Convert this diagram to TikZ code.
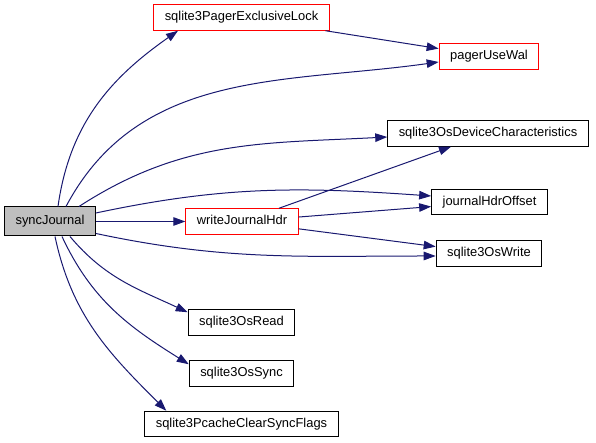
\documentclass[tikz,border=0pt]{standalone}
\usepackage{fontspec}
\setmainfont{Liberation Sans}
\usetikzlibrary{positioning,arrows.meta}
\definecolor{CGNavy}{HTML}{191970}
\definecolor{CGRed}{HTML}{FF0000}
\definecolor{CGGray}{HTML}{BFBFBF}
\tikzset{
  cgBase/.style={
    font=\fontsize{12.9pt}{14pt}\selectfont,
    draw=black,
    line width=1pt,
    inner xsep=11pt,
    inner ysep=0pt,
    text height=9.5pt,
    text depth=2.8pt,
    minimum height=25.5pt
  },
  cgRoot/.style={
    cgBase,
    fill=CGGray,
    minimum height=29pt
  },
  cgLocal/.style={
    cgBase,
    draw=CGRed
  },
  cgExt/.style={
    cgBase
  },
  cgArrow/.style={
    line width=1pt,
    color=CGNavy,
    -{Triangle[length=12pt,width=8.5pt]}
  }
}

\begin{document}
\begin{tikzpicture}[x=1pt,y=1pt]
    \useasboundingbox (0,0) rectangle (596,443);

    % Funcion raiz
    \node (sync) [cgRoot] at (50,221.5) {syncJournal};

    % Columna central
    \node (wjh) [cgLocal] at (242,221.5) {writeJournalHdr};
    \node (lock) [cgLocal] at (241.5,425.5) {sqlite3PagerExclusiveLock};
    \node (read) [cgExt] at (241.5,120.5) {sqlite3OsRead};
    \node (osync) [cgExt] at (241.5,69.5) {sqlite3OsSync};
    \node (pcache) [cgExt] at (241.5,19) {sqlite3PcacheClearSyncFlags};

    % Columna derecha
    \node (wal) [cgLocal] at (489,386.5) {pagerUseWal};
    \node (dev) [cgExt] at (488,309.5) {sqlite3OsDeviceCharacteristics};
    \node (off) [cgExt] at (489.5,241) {journalHdrOffset};
    \node (write) [cgExt] at (489,189.5) {sqlite3OsWrite};

    % Llamadas desde syncJournal
    \draw [cgArrow] ([xshift=8pt]sync.north) to[out=82,in=215] ([xshift=-63.5pt]lock.south);
    \draw [cgArrow] ([xshift=16pt]sync.north) to[out=62,in=188] ([yshift=-5.5pt]wal.west);
    \draw [cgArrow] ([xshift=29pt]sync.north) to[out=33,in=183] ([yshift=-3.5pt]dev.west);
    \draw [cgArrow] ([yshift=8.5pt]sync.east) to[out=12,in=176] ([yshift=6pt]off.west);
    \draw [cgArrow] (sync) -- (wjh);
    \draw [cgArrow] ([yshift=-12pt]sync.east) to[out=-12,in=180] ([yshift=-2.5pt]write.west);
    \draw [cgArrow] ([xshift=20pt]sync.south) to[out=-50,in=155] ([yshift=-3pt]read.north west);
    \draw [cgArrow] ([xshift=12pt]sync.south) to[out=-65,in=148] ([yshift=-4pt]osync.north west);
    \draw [cgArrow] ([xshift=5pt]sync.south) to[out=-78,in=135] ([xshift=22pt]pcache.north west);

    % Llamadas internas
    \draw [cgArrow] (lock) -- (wal);
    \draw [cgArrow] (wjh) -- (dev);
    \draw [cgArrow] (wjh) -- (off);
    \draw [cgArrow] (wjh) -- (write);
\end{tikzpicture}
\end{document}
